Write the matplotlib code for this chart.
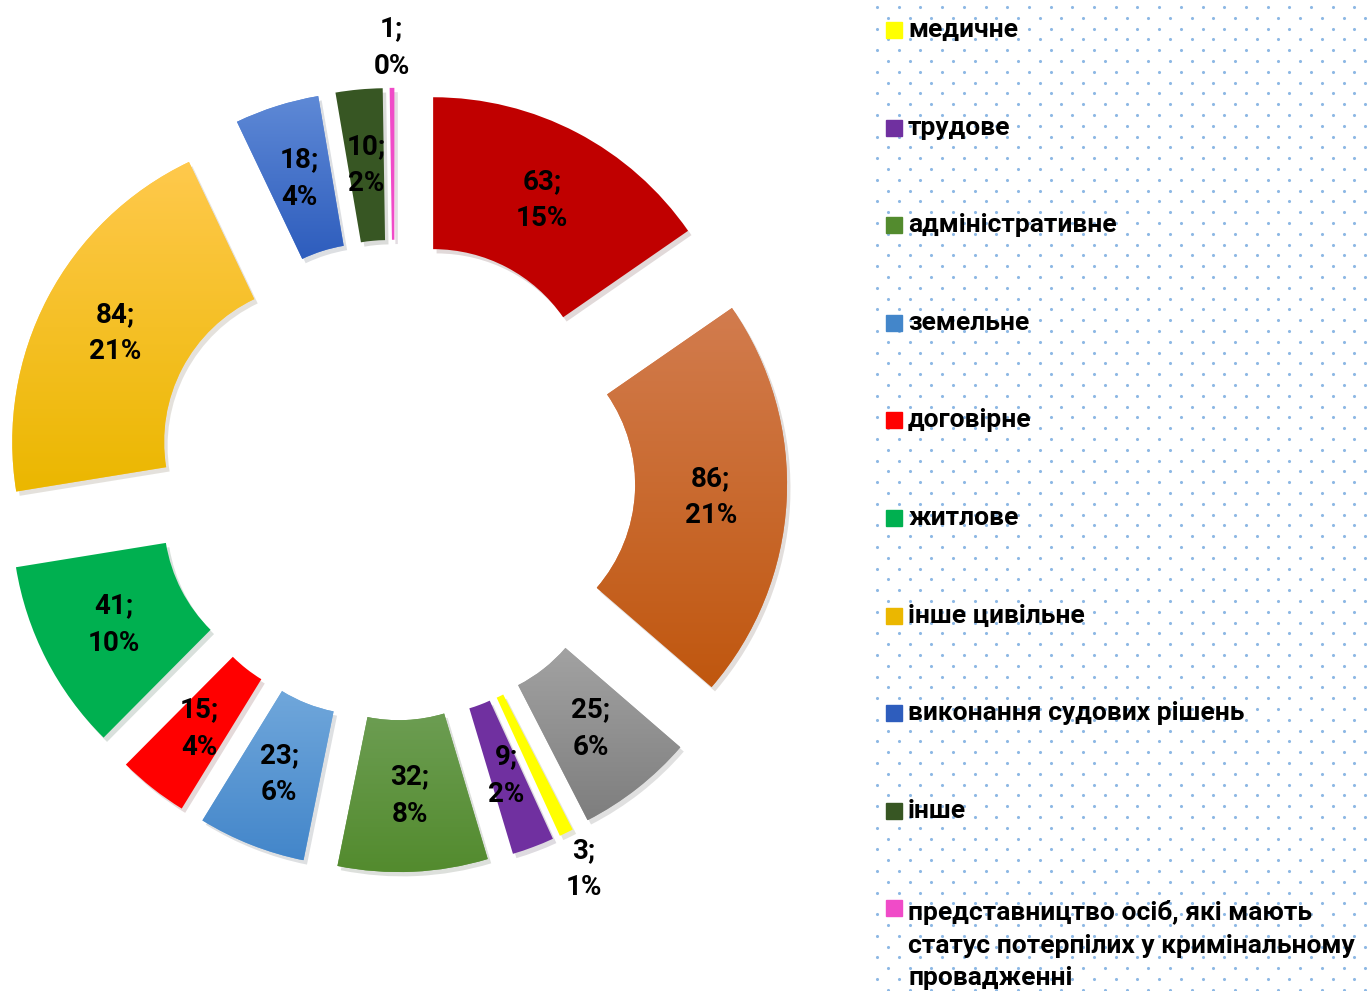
# Doughnut chart with exploded slices and dotted legend panel
import numpy as np
import matplotlib.pyplot as plt
from matplotlib.colors import LinearSegmentedColormap
from matplotlib.patches import Rectangle

# Data (clockwise from 12 o'clock)
values = [63, 86, 25, 3, 9, 32, 23, 15, 41, 84, 18, 10, 1]
percents = [15, 21, 6, 1, 2, 8, 6, 4, 10, 21, 4, 2, 0]
names = [None, None, None, 'медичне', 'трудове', 'адміністративне', 'земельне',
         'договірне', 'житлове', 'інше цивільне', 'виконання судових рішень',
         'інше', 'представництво осіб, які мають\nстатус потерпілих у кримінальному\nпровадженні']
# (top colour, bottom colour) for the vertical gradient of each slice
colors = [('#C00000', '#C00000'), ('#D27C4E', '#C0570F'), ('#A2A2A2', '#7E7E7E'),
          ('#FFFF00', '#FFFF00'), ('#7030A0', '#7030A0'), ('#6C9D52', '#538B2E'),
          ('#70A7DB', '#4386CA'), ('#FF0000', '#FF0000'), ('#00B050', '#00B050'),
          ('#FFC94C', '#EBB700'), ('#5E89D6', '#2E5DBD'), ('#375623', '#375623'),
          ('#F04BC8', '#F04BC8')]
legend_order = [3, 4, 5, 6, 7, 8, 9, 10, 11, 12]
outside = [3, 12]

W, H = 1368, 991
cx, cy, R = 395, 480, 310  # pixel centre and outer radius

font = ['Roboto', 'DejaVu Sans']

fig = plt.figure(figsize=(W / 100, H / 100), dpi=100)

# dotted background of the legend area
bg = fig.add_axes([875 / W, 0, 1 - 875 / W, 1])
bg.set_xlim(875, W)
bg.set_ylim(H, 0)
bg.axis('off')
rows = np.arange(7, H + 10, 10.8)
for i, yy in enumerate(rows):
    xs = np.arange(877 + (10.85 if i % 2 else 0), W + 5, 21.7)
    bg.scatter(xs, np.full_like(xs, yy), s=5, color='#8DB8E4', linewidths=0)

# pie axes, scaled so that 1 data unit = R pixels
ax = fig.add_axes([0, 0, 1, 1])
wedges, _ = ax.pie(values, startangle=90, counterclock=False, radius=1,
                   explode=[0.265] * len(values),
                   colors=[c[0] for c in colors],
                   wedgeprops=dict(width=0.49, linewidth=0),
                   shadow=dict(ox=0.008, oy=-0.01, alpha=0.15))
ax.set_aspect('equal')
ax.axis('off')

for i, w in enumerate(wedges):
    top, bot = colors[i]
    if top != bot:
        x0, y0, x1, y1 = w.get_path().get_extents().extents
        cmap = LinearSegmentedColormap.from_list('g', [bot, top])
        grad = np.linspace(0, 1, 100).reshape(-1, 1)
        im = ax.imshow(grad, extent=(x0, x1, y0, y1), origin='lower', cmap=cmap,
                       aspect='auto', zorder=w.get_zorder() + 0.1,
                       interpolation='bilinear')
        im.set_clip_path(w)
    ang = np.deg2rad((w.theta1 + w.theta2) / 2)
    dist = 1.13 if i in outside else 0.755
    ox, oy = w.center
    ax.text(ox + dist * np.cos(ang), oy + dist * np.sin(ang),
            f'{values[i]};\n{percents[i]}%', ha='center', va='center',
            fontsize=20, fontweight='bold', family=font, linespacing=1.5,
            zorder=10)

ax.set_xlim(-cx / R, (W - cx) / R)
ax.set_ylim(-(H - cy) / R, cy / R)

# legend
y_pos = 30
for i in legend_order:
    yf = 1 - y_pos / H
    fig.patches.append(Rectangle((886 / W, yf - 8 / H), 16 / W, 16 / H,
                                 transform=fig.transFigure, color=colors[i][1],
                                 zorder=5))
    multi = '\n' in names[i]
    fig.text(908 / W, yf - (37 / H if multi else 0), names[i], ha='left',
             va='center', fontsize=19, fontweight='bold', family=font,
             linespacing=1.45, transform=fig.transFigure)
    y_pos += 97.6

fig.savefig('out.png', dpi=100)
